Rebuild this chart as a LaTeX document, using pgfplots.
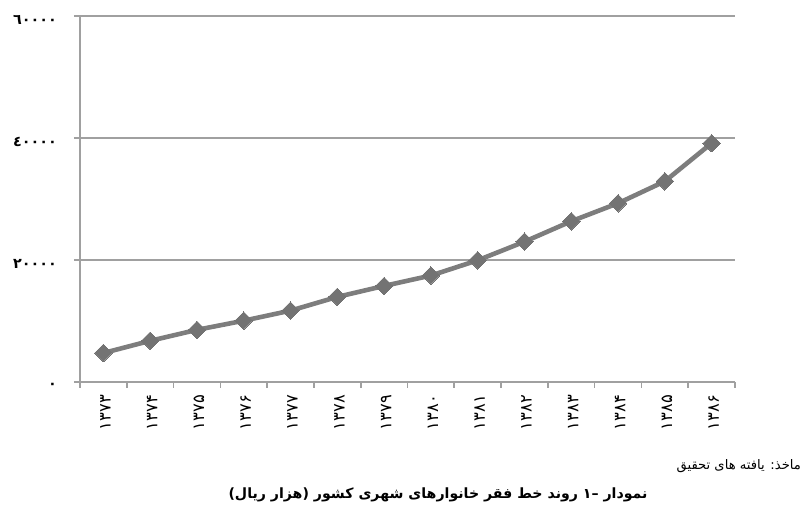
\documentclass[border=0pt]{standalone}
\usepackage{fontspec}
\usepackage{pgfplots}
\pgfplotsset{compat=1.18}
\TeXXeTstate=1
\newfontfamily\arabicfont[Script=Arabic]{DejaVu Sans}
\definecolor{axgray}{RGB}{160,160,160}
\definecolor{lngray}{RGB}{125,125,125}
\definecolor{mkgray}{RGB}{115,115,115}
\begin{document}
\begin{tikzpicture}
\useasboundingbox (0bp,0bp) rectangle (405bp,260.5bp);
\begin{axis}[
  at={(40bp,69.5bp)}, anchor=south west,
  scale only axis, width=327.5bp, height=183bp,
  xmin=-0.5, xmax=13.5, ymin=0, ymax=60000,
  scaled y ticks=false,
  axis lines*=left,
  axis line style={axgray, line width=0.8bp},
  ymajorgrids, grid style={axgray, line width=0.8bp},
  ytick={0,20000,40000,60000},
  yticklabels={٠,٢٠٠٠٠,٤٠٠٠٠,٦٠٠٠٠},
  xtick={0,...,13},
  xticklabels={۱۳۷۳,۱۳۷۴,۱۳۷۵,۱۳۷۶,۱۳۷۷,۱۳۷۸,۱۳۷۹,۱۳۸۰,۱۳۸۱,۱۳۸۲,۱۳۸۳,۱۳۸۴,۱۳۸۵,۱۳۸۶},
  minor xtick={-0.5,0.5,...,13.5},
  tick align=outside,
  major tick length=3bp, minor tick length=3bp,
  major x tick style={draw=none},
  minor x tick style={axgray, line width=0.8bp},
  major y tick style={axgray, line width=0.8bp},
  yticklabel style={font=\arabicfont\bfseries\fontsize{7.2}{8}\selectfont, anchor=east, xshift=-5bp, yshift=-2bp, text=black},
  xticklabel style={font=\arabicfont\fontsize{8.2}{9}\selectfont, rotate=90, anchor=east, yshift=-1bp, text=black},
]
\addplot[lngray, line width=2.3bp, mark=square*, mark size=3.1bp,
  mark options={rotate=45, fill=mkgray, draw=mkgray, line width=0pt}]
  coordinates {
  (0,4750) (1,6750) (2,8550) (3,10050) (4,11700) (5,13950) (6,15750)
  (7,17450) (8,19950) (9,23000) (10,26350) (11,29300) (12,32900) (13,39150)
  };
\end{axis}
\node[anchor=east, font=\arabicfont\fontsize{6.6}{8}\selectfont] at (404bp,27.5bp)
  {\beginR ماخذ: یافته های تحقیق\endR};
\node[font=\arabicfont\bfseries\fontsize{7.1}{9}\selectfont] at (219bp,13bp)
  {\beginR نمودار –۱ روند خط فقر خانوارهای شهری کشور (هزار ریال)\endR};
\end{tikzpicture}
\end{document}
